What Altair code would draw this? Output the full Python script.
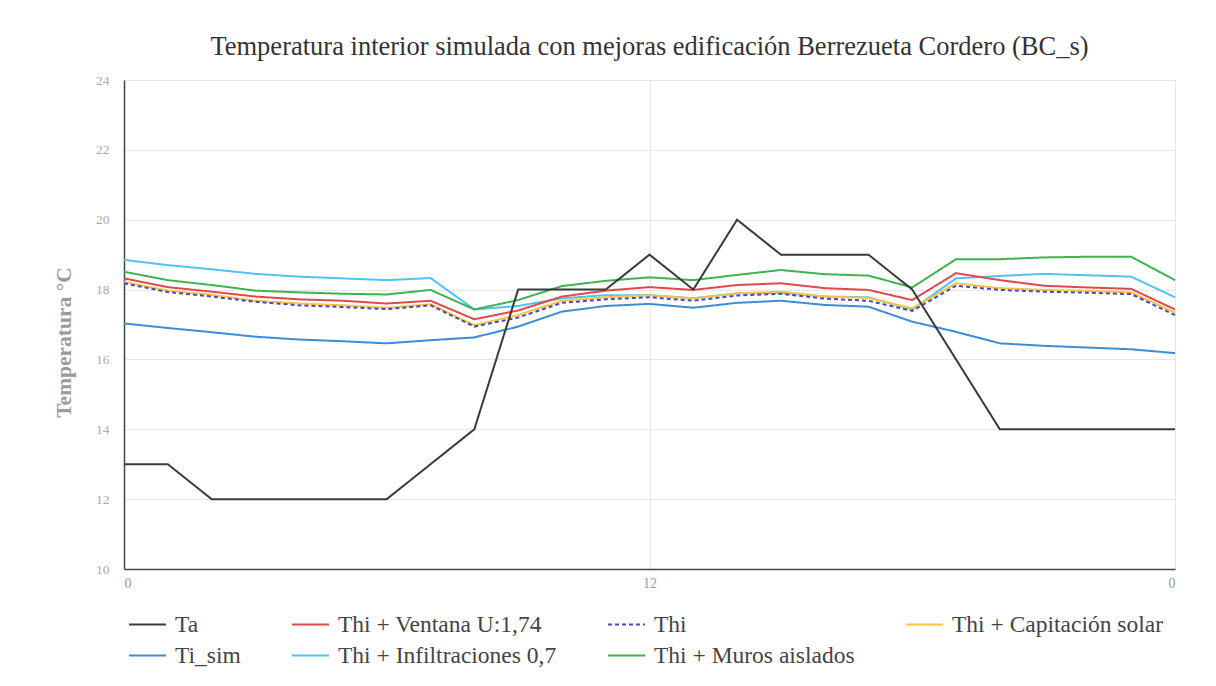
import altair as alt
import pandas as pd

hours = list(range(25))
ta = [13, 13, 12, 12, 12, 12, 12, 13, 14, 18, 18, 18, 19, 18, 20, 19, 19, 19, 18, 16, 14, 14, 14, 14, 14]
ti_sim = [17.03, 16.90, 16.78, 16.65, 16.57, 16.52, 16.46, 16.55, 16.63, 16.94, 17.37, 17.53, 17.59,
          17.48, 17.62, 17.68, 17.56, 17.51, 17.08, 16.79, 16.46, 16.39, 16.34, 16.29, 16.18]
infiltraciones = [18.85, 18.70, 18.58, 18.45, 18.37, 18.32, 18.27, 18.33, 17.43, 17.53, 17.75, 17.84, 17.84,
                  17.75, 17.89, 17.91, 17.80, 17.78, 17.43, 18.32, 18.39, 18.45, 18.41, 18.37, 17.78]
muros = [18.51, 18.27, 18.13, 17.97, 17.92, 17.88, 17.86, 17.99, 17.43, 17.70, 18.10, 18.25, 18.35,
         18.27, 18.42, 18.56, 18.44, 18.40, 18.06, 18.87, 18.87, 18.92, 18.94, 18.94, 18.27]
ventana = [18.32, 18.07, 17.94, 17.80, 17.72, 17.68, 17.60, 17.68, 17.15, 17.40, 17.80, 17.97, 18.07,
           17.99, 18.13, 18.18, 18.04, 17.99, 17.70, 18.47, 18.27, 18.11, 18.06, 18.02, 17.43]
captacion = [18.22, 17.97, 17.85, 17.68, 17.60, 17.55, 17.48, 17.58, 16.98, 17.27, 17.68, 17.78, 17.84,
             17.75, 17.89, 17.94, 17.80, 17.76, 17.46, 18.18, 18.04, 17.99, 17.96, 17.92, 17.34]
thi = [18.18, 17.93, 17.80, 17.65, 17.55, 17.50, 17.44, 17.55, 16.94, 17.20, 17.62, 17.72, 17.78,
       17.68, 17.83, 17.88, 17.74, 17.68, 17.39, 18.11, 17.99, 17.94, 17.91, 17.87, 17.27]

x_ticks = [0, 12, 24]
y_ticks = [10, 12, 14, 16, 18, 20, 22, 24]

# legend order (row-major, 4 columns)
legend_order = ["Ta", "Thi + Ventana U:1,74", "Thi", "Thi + Capitación solar",
                "Ti_sim", "Thi + Infiltraciones 0,7", "Thi + Muros aislados"]
legend_colors = ["#3a3a3a", "#e0484c", "#4848b8", "#f6c342",
                 "#3b8ed6", "#4ec4f2", "#3fb34f"]
legend_dash = [[1, 0], [1, 0], [4, 3], [1, 0], [1, 0], [1, 0], [1, 0]]

# drawing order (back to front)
series = [
    ("Ti_sim", ti_sim),
    ("Thi + Infiltraciones 0,7", infiltraciones),
    ("Thi + Muros aislados", muros),
    ("Thi + Ventana U:1,74", ventana),
    ("Thi + Capitación solar", captacion),
    ("Thi", thi),
    ("Ta", ta),
]

rows = []
for name, vals in series:
    for h, v in zip(hours, vals):
        rows.append({"hora": h, "temp": v, "serie": name})
df = pd.DataFrame(rows)

serif = "Liberation Serif"

chart = alt.Chart(df).mark_line(strokeWidth=2).encode(
    x=alt.X("hora:Q",
            scale=alt.Scale(domain=[0, 24], nice=False, zero=False),
            axis=alt.Axis(values=x_ticks, title=None,
                          labelExpr="datum.value == 24 ? '0' : datum.value",
                          grid=True, gridColor="#e6e6e6", ticks=False,
                          domainColor="#444444", domainWidth=1.5,
                          labelFont=serif, labelFontSize=14, labelColor="#999999",
                          labelPadding=7)),
    y=alt.Y("temp:Q",
            scale=alt.Scale(domain=[10, 24], nice=False, zero=False),
            axis=alt.Axis(values=y_ticks, title="Temperatura °C",
                          grid=True, gridColor="#e6e6e6", ticks=False,
                          domainColor="#444444", domainWidth=1.5,
                          labelFont=serif, labelFontSize=13.5, labelColor="#aaaaaa",
                          labelPadding=15,
                          titleFont=serif, titleFontSize=21.5, titleFontWeight="bold",
                          titleColor="#9a9a9a", titlePadding=20, titleY=262)),
    color=alt.Color("serie:N",
                    scale=alt.Scale(domain=legend_order, range=legend_colors),
                    legend=alt.Legend(title=None, orient="none", legendX=4, legendY=525,
                                      columns=4, direction="horizontal",
                                      columnPadding=47, rowPadding=-5,
                                      symbolType="stroke", symbolSize=1369,
                                      symbolStrokeWidth=2,
                                      labelFont=serif, labelFontSize=23.5,
                                      labelColor="#444444", labelLimit=400,
                                      labelOffset=8)),
    strokeDash=alt.StrokeDash("serie:N",
                              scale=alt.Scale(domain=legend_order, range=legend_dash),
                              legend=None),
    detail="serie:N",
).properties(
    width=1051,
    height=489,
    title=alt.TitleParams("Temperatura interior simulada con mejoras edificación Berrezueta Cordero (BC_s)",
                          font=serif, fontSize=26.5, fontWeight="normal", color="#333333",
                          anchor="middle", offset=13),
    autosize=alt.AutoSizeParams(type="none"),
    padding={"left": 116, "top": 72, "right": 25, "bottom": 109},
).configure_view(
    stroke=None
).configure(background="white")

chart.save("out.html", embed_options={"renderer": "svg", "actions": False})
